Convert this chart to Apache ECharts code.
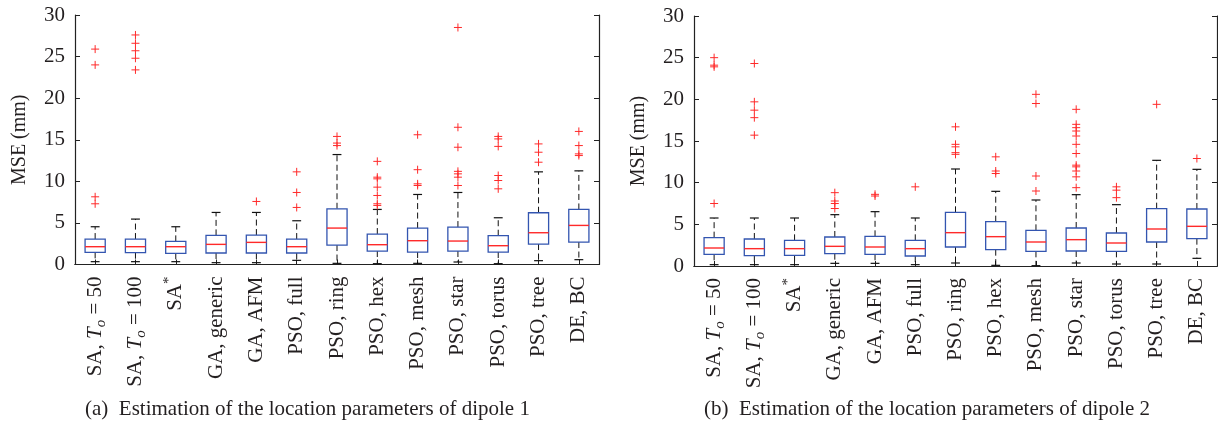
<!DOCTYPE html>
<html>
<head>
<meta charset="utf-8">
<script src="https://cdn.jsdelivr.net/npm/echarts@6/dist/echarts.min.js"></script>
<style>
html,body{margin:0;padding:0;background:#fff;}
#chart{width:1218px;height:429px;}
</style>
</head>
<body>
<div id="chart"></div>
<script>
// ---- Data ----
const categories = ['SA, T_o = 50','SA, T_o = 100','SA*','GA, generic','GA, AFM','PSO, full','PSO, ring','PSO, hex','PSO, mesh','PSO, star','PSO, torus','PSO, tree','DE, BC'];
const yTicks = [0,5,10,15,20,25,30];

// Panel (a): dipole 1
const a_low  = [0.34,0.34,0.34,0.22,0.22,0.5,0.14,0.1,0.14,0.3,0.1,0.46,0.58];
const a_q1   = [1.46,1.42,1.34,1.38,1.38,1.38,2.34,1.62,1.5,1.62,1.5,2.46,2.7];
const a_med  = [2.14,2.14,2.14,2.42,2.66,2.14,4.38,2.38,2.86,2.82,2.26,3.82,4.7];
const a_q3   = [3.06,3.06,2.78,3.5,3.54,3.06,6.7,3.66,4.38,4.5,3.46,6.22,6.62];
const a_high = [4.54,5.46,4.54,6.26,6.26,5.26,13.22,6.62,8.42,8.66,5.62,11.14,11.26];
const a_out  = [
  [25.9,24.0,8.14,7.3],
  [27.6,26.6,25.7,24.8,23.4],
  [],
  [],
  [7.58],
  [11.14,8.66,6.86],
  [15.4,14.6,14.3],
  [12.4,10.5,10.3,9.3,8.3,7.3,7.1],
  [15.6,11.4,9.7,9.5],
  [28.5,16.5,14.1,11.2,10.9,10.5,9.5],
  [15.4,15.1,14.2,10.7,10.1,9.1],
  [14.5,13.5,12.3],
  [16.0,14.3,13.3,13.1]
];

// Panel (b): dipole 2
const b_low  = [0.16,0.16,0.16,0.32,0.32,0.16,0.36,0.08,0.04,0.36,0.24,0.24,0.92];
const b_q1   = [1.4,1.24,1.28,1.48,1.4,1.2,2.28,1.96,1.76,1.8,1.76,2.88,3.28];
const b_med  = [2.16,2.08,2.08,2.36,2.28,2.08,4.0,3.52,2.88,3.16,2.76,4.44,4.76];
const b_q3   = [3.4,3.24,3.08,3.48,3.56,3.08,6.44,5.32,4.28,4.56,3.96,6.88,6.84];
const b_high = [5.76,5.76,5.76,6.16,6.52,5.76,11.64,8.96,7.92,8.56,7.36,12.68,11.6];
const b_out  = [
  [25.0,24.1,23.9,7.5],
  [24.3,19.7,18.7,17.8,15.7],
  [],
  [8.8,7.8,7.5,6.9],
  [8.6,8.4],
  [9.5],
  [16.7,14.6,14.3,13.6,13.4],
  [13.1,11.4,11.1],
  [20.6,19.5,10.8,9.0],
  [18.8,17.0,16.6,16.2,15.6,14.6,13.5,12.1,11.9,11.4,10.7,9.4],
  [9.5,9.1,8.2],
  [19.4],
  [12.9]
];

const captions = ['(a)  Estimation of the location parameters of dipole 1','(b)  Estimation of the location parameters of dipole 2'];

// ---- Build ----
const FONT = '"Liberation Serif", "DejaVu Serif", serif';
const TXT = '#231f20';
const BLUE = '#3355b0';
const RED = '#ff2a2a';

function boxData(low,q1,med,q3,high){
  return categories.map((c,i)=>[i,low[i],q1[i],med[i],q3[i],high[i]]);
}
function outData(out){
  const r=[];
  out.forEach((arr,i)=>arr.forEach(v=>r.push([i,v])));
  return r;
}
function renderBox(params, api){
  const i = api.value(0);
  const lo = api.coord([i, api.value(1)]);
  const q1 = api.coord([i, api.value(2)]);
  const md = api.coord([i, api.value(3)]);
  const q3 = api.coord([i, api.value(4)]);
  const hi = api.coord([i, api.value(5)]);
  const cw = api.size([1,0])[0];
  const bw = cw*0.5, capw = cw*0.11;
  const x = lo[0];
  const dash = {stroke:'#111', lineWidth:1, lineDash:[6,3.5]};
  const solid = {stroke:'#111', lineWidth:1.2};
  return {type:'group', children:[
    {type:'line', shape:{x1:x,y1:q3[1],x2:x,y2:hi[1]}, style:dash},
    {type:'line', shape:{x1:x,y1:q1[1],x2:x,y2:lo[1]}, style:dash},
    {type:'line', shape:{x1:x-capw,y1:hi[1],x2:x+capw,y2:hi[1]}, style:solid},
    {type:'line', shape:{x1:x-capw,y1:lo[1],x2:x+capw,y2:lo[1]}, style:solid},
    {type:'rect', shape:{x:x-bw/2,y:q3[1],width:bw,height:q1[1]-q3[1]}, style:{fill:'#fff',stroke:BLUE,lineWidth:1.3}},
    {type:'line', shape:{x1:x-bw/2,y1:md[1],x2:x+bw/2,y2:md[1]}, style:{stroke:RED,lineWidth:1.4}}
  ]};
}
function renderPlus(params, api){
  const p = api.coord([api.value(0), api.value(1)]);
  const s = 4;
  const st = {stroke:RED, lineWidth:1};
  return {type:'group', children:[
    {type:'line', shape:{x1:p[0]-s,y1:p[1],x2:p[0]+s,y2:p[1]}, style:st},
    {type:'line', shape:{x1:p[0],y1:p[1]-s,x2:p[0],y2:p[1]+s}, style:st}
  ]};
}

function labelFmt(v){
  return v.replace('T_o','{i|T}{s|o}').replace('SA*','SA{p|*}');
}
const LF = 21;
const richLabel = {
  i:{fontFamily:FONT,fontStyle:'italic',fontSize:LF,color:TXT,lineHeight:24},
  s:{fontFamily:FONT,fontStyle:'italic',fontSize:15,color:TXT,verticalAlign:'bottom',lineHeight:24,padding:[0,0,-1,0]},
  p:{fontFamily:FONT,fontSize:15,color:TXT,verticalAlign:'top',lineHeight:24,padding:[-2,0,0,0]}
};

const grids = [
  {left:75, right:619, top:15, bottom:164.5},
  {left:694, right:1, top:16, bottom:163}
];

const xAxes = [], yAxes = [], series = [];
grids.forEach((g,gi)=>{
  xAxes.push({
    type:'category', gridIndex:gi, data:categories, boundaryGap:true,
    axisLine:{show:true, lineStyle:{color:'#222', width:1.2}},
    axisTick:{show:true, inside:true, alignWithLabel:true, length:5, lineStyle:{color:'#222'}},
    axisLabel:{rotate:90, margin:12, fontFamily:FONT, fontSize:LF, lineHeight:24, color:TXT, formatter:labelFmt, rich:richLabel},
    splitLine:{show:false}
  });
  yAxes.push({
    type:'value', gridIndex:gi, min:yTicks[0], max:yTicks[yTicks.length-1], interval:5, position:'left',
    name:'MSE (mm)', nameLocation:'middle', nameGap:45, nameRotate:90,
    nameTextStyle:{fontFamily:FONT, fontSize:20, color:TXT},
    axisLine:{show:true, lineStyle:{color:'#222', width:1.2}},
    axisTick:{show:true, inside:true, length:5, lineStyle:{color:'#222'}},
    axisLabel:{fontFamily:FONT, fontSize:21, color:TXT, margin:10},
    splitLine:{show:false}
  });
  yAxes.push({
    type:'value', gridIndex:gi, min:yTicks[0], max:yTicks[yTicks.length-1], interval:5, position:'right',
    axisLine:{show:true, lineStyle:{color:'#222', width:1.2}},
    axisTick:{show:true, inside:true, length:5, lineStyle:{color:'#222'}},
    axisLabel:{show:false}, splitLine:{show:false}
  });
});
// top frame lines
grids.forEach((g,gi)=>{
  xAxes.push({
    type:'category', gridIndex:gi, data:categories, position:'top',
    axisLine:{show:true, lineStyle:{color:'#222', width:1.2}},
    axisTick:{show:false}, axisLabel:{show:false}, splitLine:{show:false}
  });
});

const panels = [
  {box:boxData(a_low,a_q1,a_med,a_q3,a_high), out:outData(a_out)},
  {box:boxData(b_low,b_q1,b_med,b_q3,b_high), out:outData(b_out)}
];
panels.forEach((p,gi)=>{
  series.push({type:'custom', xAxisIndex:gi, yAxisIndex:gi*2, renderItem:renderBox, data:p.box, silent:true, clip:false,
    encode:{x:0, y:[1,2,3,4,5]}});
  series.push({type:'custom', xAxisIndex:gi, yAxisIndex:gi*2, renderItem:renderPlus, data:p.out, silent:true, clip:false,
    encode:{x:0, y:1}});
});

const chart = echarts.init(document.getElementById('chart'), null, {renderer:'canvas'});
chart.setOption({
  backgroundColor:'#fff',
  animation:false,
  grid:grids,
  xAxis:xAxes,
  yAxis:yAxes,
  series:series,
  graphic:[
    {type:'text', left:85, top:399, style:{text:captions[0], font:'21px '+FONT, fill:TXT}},
    {type:'text', left:704, top:399, style:{text:captions[1], font:'21px '+FONT, fill:TXT}}
  ]
});
</script>
</body>
</html>
